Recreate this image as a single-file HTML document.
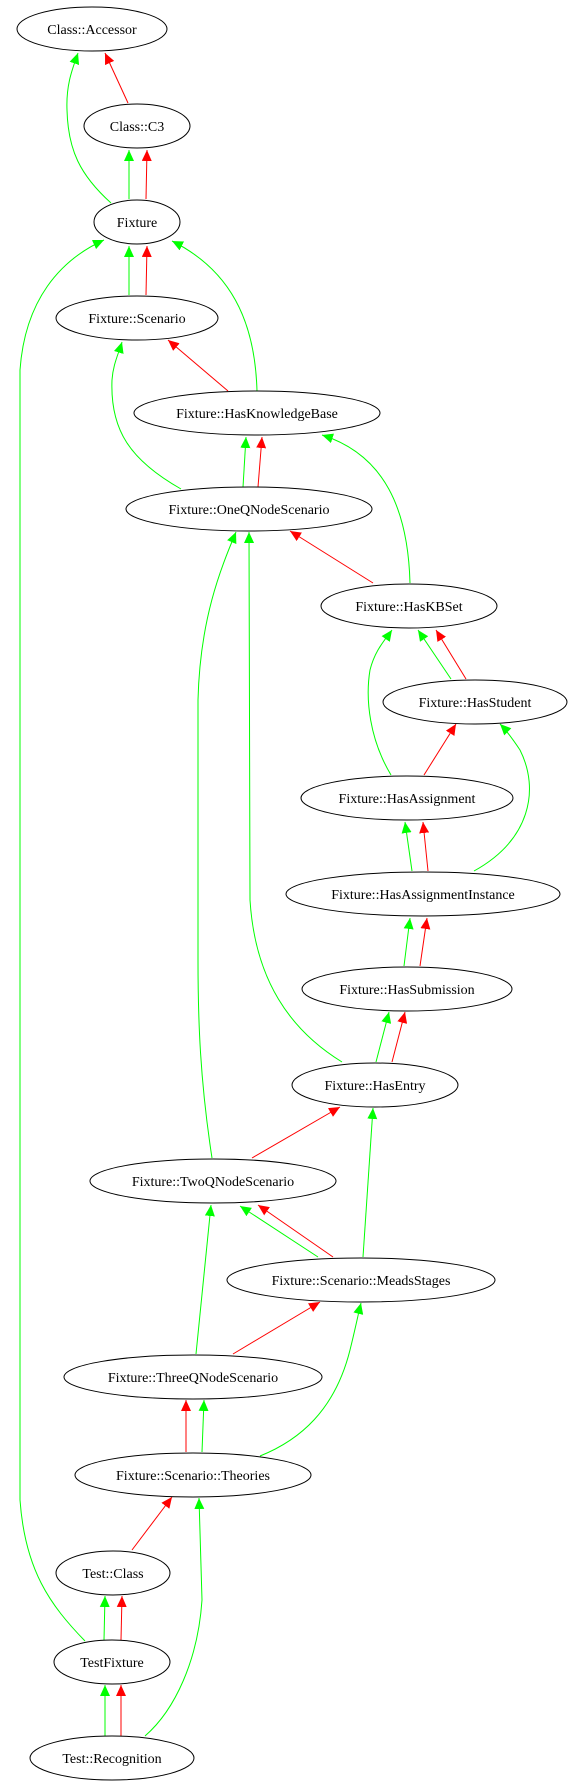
<!DOCTYPE html>
<html><head><meta charset="utf-8"><style>
html,body{margin:0;padding:0;background:#fff}
svg{display:block}
text{font-family:"Liberation Serif",serif;font-size:14px;text-anchor:middle;fill:#000}
</style></head><body>
<svg width="572" height="1787" viewBox="0 0 572 1787" xmlns="http://www.w3.org/2000/svg">
<defs>
<marker id="g" markerUnits="userSpaceOnUse" markerWidth="12" markerHeight="10" refX="11" refY="5" orient="auto"><path d="M0,0 L11,5 L0,10 z" fill="#0f0"/></marker>
<marker id="r" markerUnits="userSpaceOnUse" markerWidth="12" markerHeight="10" refX="11" refY="5" orient="auto"><path d="M0,0 L11,5 L0,10 z" fill="#f00"/></marker>
</defs>
<g fill="none" stroke-width="1">
<g stroke="#f00" marker-end="url(#r)">
<path d="M128,103 L105,53"/>
<path d="M146,199 L147,150"/>
<path d="M146,295 L147,246"/>
<path d="M228,391 L168,340"/>
<path d="M258,487 L262,437"/>
<path d="M373,583 L290,531"/>
<path d="M466,679 L436,630"/>
<path d="M424,775 L456,724"/>
<path d="M428,871 L423,822"/>
<path d="M420,966 L427,918"/>
<path d="M392,1062 L405,1012"/>
<path d="M252,1158 L340,1107"/>
<path d="M333,1257 L258,1205"/>
<path d="M233,1354 L320,1302"/>
<path d="M186,1452 L186,1400"/>
<path d="M132,1550 L172,1497"/>
<path d="M121,1640 L122,1596"/>
<path d="M121,1736 L121,1685"/>
</g>
<g stroke="#0f0" marker-end="url(#g)">
<path d="M111,203 C80,175 68,150 67,110 C66,85 72,70 78,53"/>
<path d="M129,199 L129,150"/>
<path d="M129,295 L129,246"/>
<path d="M85,1641 C50,1605 25,1570 20,1500 L20,370 C25,300 60,260 104,240"/>
<path d="M257,391 C255,320 230,270 172,241"/>
<path d="M181,489 C130,460 110,430 112,380 C113,365 118,355 122,342"/>
<path d="M243,487 L246,437"/>
<path d="M410,583 C408,510 385,455 322,435"/>
<path d="M212,1158 C200,1080 198,1020 198,960 L198,700 C200,620 220,570 236,532"/>
<path d="M342,1062 C290,1030 255,980 250,900 L249,532"/>
<path d="M451,679 L418,630"/>
<path d="M391,775 C370,740 365,700 370,670 C375,650 385,640 392,630"/>
<path d="M474,871 C530,840 540,790 520,750 C512,738 506,730 500,724"/>
<path d="M412,871 L405,822"/>
<path d="M404,966 L410,918"/>
<path d="M376,1062 L389,1012"/>
<path d="M363,1257 L373,1108"/>
<path d="M318,1257 L240,1206"/>
<path d="M196,1354 L211,1205"/>
<path d="M202,1452 L204,1400"/>
<path d="M260,1456 C300,1440 335,1410 350,1350 C355,1330 358,1315 361,1303"/>
<path d="M145,1736 C175,1710 198,1660 202,1600 L199,1498"/>
<path d="M104,1640 L105,1596"/>
<path d="M105,1736 L105,1685"/>
</g>
</g>
<g fill="none" stroke="#000" stroke-width="1">
<ellipse cx="92" cy="29" rx="75" ry="22"/>
<ellipse cx="137" cy="126" rx="53" ry="22"/>
<ellipse cx="137" cy="222" rx="43" ry="22"/>
<ellipse cx="137" cy="318" rx="81" ry="22"/>
<ellipse cx="257" cy="413" rx="123" ry="22"/>
<ellipse cx="249" cy="509" rx="123" ry="22"/>
<ellipse cx="409" cy="606" rx="88" ry="22"/>
<ellipse cx="475" cy="702" rx="92" ry="22"/>
<ellipse cx="407" cy="798" rx="106" ry="22"/>
<ellipse cx="423" cy="894" rx="137" ry="22"/>
<ellipse cx="407" cy="989" rx="105" ry="22"/>
<ellipse cx="375" cy="1085" rx="83" ry="22"/>
<ellipse cx="213" cy="1181" rx="123" ry="22"/>
<ellipse cx="361" cy="1280" rx="134" ry="22"/>
<ellipse cx="193" cy="1377" rx="129" ry="22"/>
<ellipse cx="193" cy="1475" rx="118" ry="22"/>
<ellipse cx="113" cy="1573" rx="57" ry="22"/>
<ellipse cx="112" cy="1662" rx="58" ry="22"/>
<ellipse cx="112" cy="1758" rx="82" ry="22"/>
</g>
<g>
<text x="92" y="34">Class::Accessor</text>
<text x="137" y="131">Class::C3</text>
<text x="137" y="227">Fixture</text>
<text x="137" y="323">Fixture::Scenario</text>
<text x="257" y="418">Fixture::HasKnowledgeBase</text>
<text x="249" y="514">Fixture::OneQNodeScenario</text>
<text x="409" y="611">Fixture::HasKBSet</text>
<text x="475" y="707">Fixture::HasStudent</text>
<text x="407" y="803">Fixture::HasAssignment</text>
<text x="423" y="899">Fixture::HasAssignmentInstance</text>
<text x="407" y="994">Fixture::HasSubmission</text>
<text x="375" y="1090">Fixture::HasEntry</text>
<text x="213" y="1186">Fixture::TwoQNodeScenario</text>
<text x="361" y="1285">Fixture::Scenario::MeadsStages</text>
<text x="193" y="1382">Fixture::ThreeQNodeScenario</text>
<text x="193" y="1480">Fixture::Scenario::Theories</text>
<text x="113" y="1578">Test::Class</text>
<text x="112" y="1667">TestFixture</text>
<text x="112" y="1763">Test::Recognition</text>
</g>
</svg>
</body></html>
